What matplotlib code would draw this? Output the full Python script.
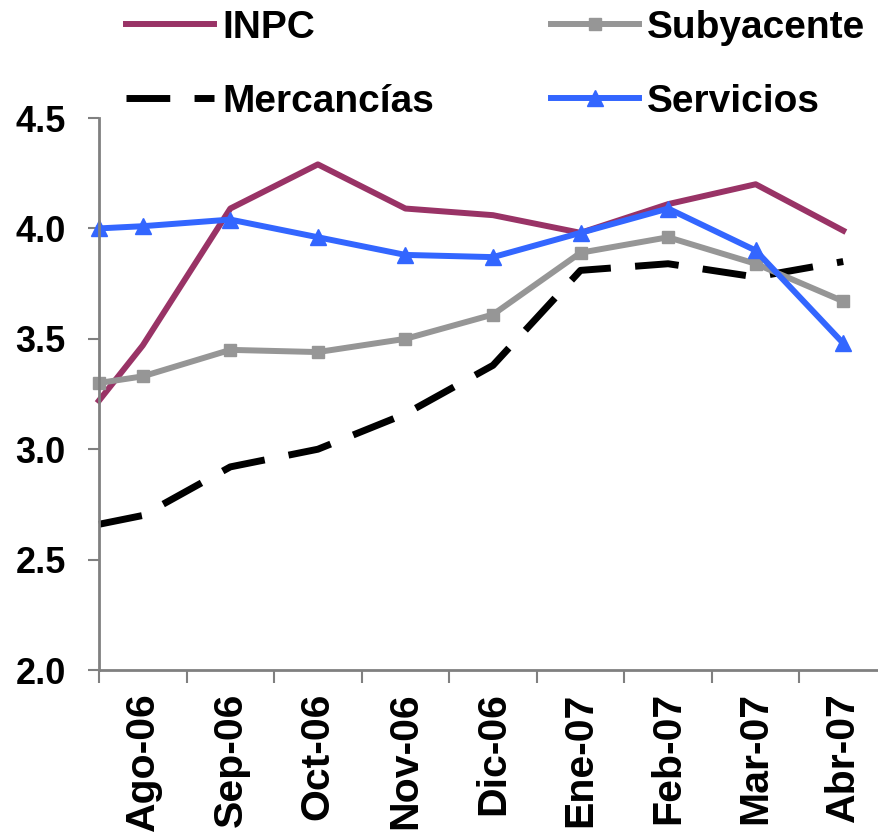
import matplotlib.pyplot as plt
import numpy as np

plt.rcParams['font.family'] = ['Liberation Sans', 'DejaVu Sans']
plt.rcParams['font.weight'] = 'bold'

# Monthly data (first value is Jul-06, drawn on the axis edge)
meses = ['Jul-06', 'Ago-06', 'Sep-06', 'Oct-06', 'Nov-06', 'Dic-06',
         'Ene-07', 'Feb-07', 'Mar-07', 'Abr-07']
inpc = [3.22, 3.47, 4.09, 4.29, 4.09, 4.06, 3.98, 4.11, 4.20, 3.99]
subyacente = [3.30, 3.33, 3.45, 3.44, 3.50, 3.61, 3.89, 3.96, 3.84, 3.67]
mercancias = [2.66, 2.70, 2.92, 3.00, 3.16, 3.38, 3.81, 3.84, 3.78, 3.85]
servicios = [4.00, 4.01, 4.04, 3.96, 3.88, 3.87, 3.98, 4.09, 3.90, 3.48]
yticks = [2.0, 2.5, 3.0, 3.5, 4.0, 4.5]

# category positions: first point sits on the left axis
x = np.arange(len(meses)) - 1.0
x[0] = -0.5

fig = plt.figure(figsize=(8.79, 8.34), dpi=100)
ax = fig.add_axes([0.1126, 0.1966, 0.8965, 0.6619])

ax.plot(x, inpc, color='#993366', lw=4.3, label='INPC', clip_on=False)
ax.plot(x, mercancias, color='black', lw=5, dashes=(6.3, 3.5),
        label='Mercancías', clip_on=False)
ax.plot(x, subyacente, color='#969696', lw=4.3, marker='s', markersize=9,
        label='Subyacente', clip_on=False)
ax.plot(x, servicios, color='#3366FF', lw=4.3, marker='^', markersize=11,
        label='Servicios', clip_on=False)

ax.set_xlim(-0.5, 8.5)
ax.set_ylim(2.0, 4.5)
ax.set_yticks(yticks)
ax.set_yticklabels(['%.1f' % v for v in yticks], fontsize=26,
                   fontweight='bold')

# x labels centred on categories, ticks between categories
ax.set_xticks(np.arange(-0.5, 8.5, 1.0))
ax.set_xticklabels([])
ax.set_xticks(np.arange(0, 9), minor=True)
ax.set_xticklabels(meses[1:], minor=True, rotation=90, fontsize=29.5,
                   fontweight='bold')
ax.tick_params(axis='x', which='minor', length=0, pad=16)
ax.tick_params(axis='x', which='major', length=9, width=1.5, color='#808080',
               direction='out')
ax.tick_params(axis='y', length=8, width=1.5, color='#808080', pad=16)

for s in ['top', 'right']:
    ax.spines[s].set_visible(False)
for s in ['left', 'bottom']:
    ax.spines[s].set_color('#808080')
    ax.spines[s].set_linewidth(2)

fig.legend(loc='upper left', bbox_to_anchor=(0.104, 1.03), ncol=2,
           frameon=False, handlelength=2.26, handletextpad=0.21,
           columnspacing=3.0, labelspacing=0.98, numpoints=1,
           prop={'weight': 'bold', 'size': 28})

fig.savefig('out.png', dpi=100)
